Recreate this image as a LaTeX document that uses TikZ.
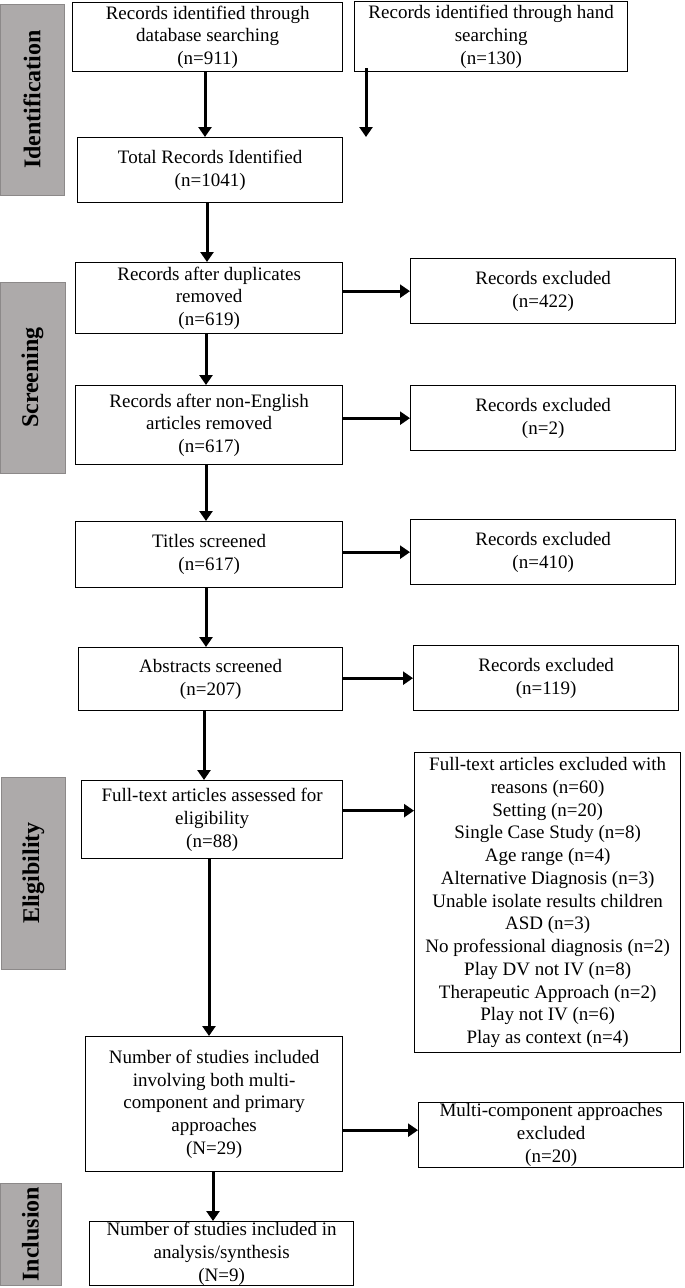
\documentclass[tikz,border=0pt]{standalone}
\usepackage{fontspec}
\setmainfont{Liberation Serif}
\usetikzlibrary{arrows.meta, positioning}

\definecolor{phasefill}{RGB}{173,170,170}
\definecolor{phaseline}{RGB}{140,137,137}

\begin{document}
\begin{tikzpicture}[
      x=1pt, y=-1pt,
      box/.style={
         draw,
         line width=1.3pt,
         inner sep=0pt,
         anchor=north west,
         align=center,
         font=\fontsize{19}{22.75}\selectfont
      },
      phase/.style={
         draw=phaseline,
         fill=phasefill,
         line width=0.8pt,
         rotate=90,
         inner sep=0pt,
         font=\fontsize{24}{28}\selectfont\bfseries
      },
      flow/.style={
         -{Triangle[length=10pt, width=13pt]},
         line width=3pt
      }
   ]

      \useasboundingbox (0,0) rectangle (685,1288);

      % phases
      \node[phase, minimum width=191pt, minimum height=64pt] (ident) at (32,99.5) {Identification};
      \node[phase, minimum width=191pt, minimum height=65pt] (screen) at (32.5,377.5) {Screening};
      \node[phase, minimum width=192pt, minimum height=64pt] (elig) at (33.5,873) {Eligibility};
      \node[phase, minimum width=102pt, minimum height=61pt] (incl) at (30.5,1234) {Inclusion};

      % main column
      \node[box, minimum width=270pt, minimum height=69pt] (db) at (72,2)
         {Records identified through\\database searching\\(n=911)};
      \node[box, minimum width=273pt, minimum height=70pt] (hand) at (354,1)
         {Records identified through hand\\searching\\(n=130)};
      \node[box, minimum width=265pt, minimum height=65pt] (total) at (77,137)
         {Total Records Identified\\(n=1041)};
      \node[box, minimum width=267pt, minimum height=71pt] (dupl) at (75,262)
         {Records after duplicates\\removed\\(n=619)};
      \node[box, minimum width=267pt, minimum height=79pt] (noneng) at (75,385)
         {Records after non-English\\articles removed\\(n=617)};
      \node[box, minimum width=267pt, minimum height=66pt] (titles) at (75,521)
         {Titles screened\\(n=617)};
      \node[box, minimum width=264pt, minimum height=63pt] (abstr) at (78,647)
         {Abstracts screened\\(n=207)};
      \node[box, minimum width=261pt, minimum height=78pt] (fulltext) at (81,780)
         {Full-text articles assessed for\\eligibility\\(n=88)};
      \node[box, minimum width=257pt, minimum height=135pt] (studies) at (85,1036)
         {Number of studies included\\involving both multi-\\component and primary\\approaches\\(N=29)};
      \node[box, minimum width=264pt, minimum height=64pt] (final) at (89,1221)
         {Number of studies included in\\analysis/synthesis\\(N=9)};

      % exclusions
      \node[box, minimum width=265pt, minimum height=65pt] (exdupl) at (410,258)
         {Records excluded\\(n=422)};
      \node[box, minimum width=265pt, minimum height=65pt] (exlang) at (410,385)
         {Records excluded\\(n=2)};
      \node[box, minimum width=265pt, minimum height=65pt] (extitle) at (410,519)
         {Records excluded\\(n=410)};
      \node[box, minimum width=265pt, minimum height=65pt] (exabstr) at (413,645)
         {Records excluded\\(n=119)};
      \node[box, minimum width=266pt, minimum height=300pt] (exfull) at (414,752)
         {Full-text articles excluded with\\reasons (n=60)\\Setting (n=20)\\Single Case Study (n=8)\\Age range (n=4)\\Alternative Diagnosis (n=3)\\Unable isolate results children\\ASD (n=3)\\No professional diagnosis (n=2)\\Play DV not IV (n=8)\\Therapeutic Approach (n=2)\\Play not IV (n=6)\\Play as context (n=4)};
      \node[box, minimum width=265pt, minimum height=65pt] (exmulti) at (418,1102)
         {Multi-component approaches\\excluded\\(n=20)};

      \coordinate (handend) at (366,137);

      % arrows down
      \draw[flow] (db.south -| 205,0) -- (total.north -| 205,0);
      \draw[flow] ([yshift=4pt]hand.south -| handend) -- (handend);
      \draw[flow] (total.south -| 207,0) -- (dupl.north -| 207,0);
      \draw[flow] (dupl.south -| 206,0) -- (noneng.north -| 206,0);
      \draw[flow] (noneng.south -| 206,0) -- (titles.north -| 206,0);
      \draw[flow] (titles.south -| 206,0) -- (abstr.north -| 206,0);
      \draw[flow] (abstr.south -| 204,0) -- (fulltext.north -| 204,0);
      \draw[flow] (fulltext.south -| 209,0) -- (studies.north -| 209,0);
      \draw[flow] (studies.south -| 213,0) -- (final.north -| 213,0);

      % arrows right
      \draw[flow] (dupl.east |- exdupl.west) -- (exdupl.west);
      \draw[flow] (noneng.east |- exlang.west) -- (exlang.west);
      \draw[flow] (titles.east |- extitle.west) -- (extitle.west);
      \draw[flow] (abstr.east |- exabstr.west) -- (exabstr.west);
      \draw[flow] ([yshift=9pt]fulltext.east) -- ([yshift=9pt]fulltext.east -| exfull.west);
      \draw[flow] ([yshift=5pt]studies.east |- exmulti.west) -- ([yshift=5pt]exmulti.west);
   \end{tikzpicture}
\end{document}
